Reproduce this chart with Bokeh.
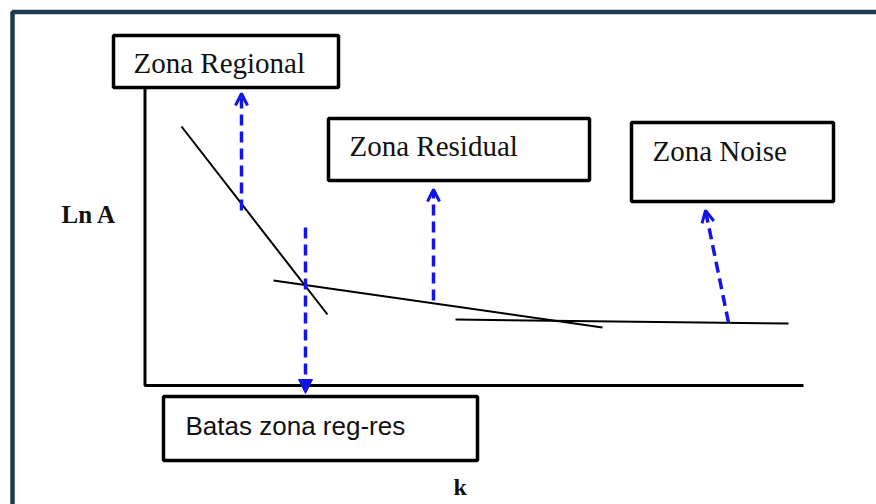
from bokeh.plotting import figure
from bokeh.models import Range1d, Arrow, OpenHead, NormalHead, ColumnDataSource
from bokeh.core.properties import value
from bokeh.embed import file_html
from bokeh.resources import INLINE

# ---- diagram data (coordinates in the picture's own units, y grows downward) ----
box_labels = ["Zona Regional", "Zona Residual", "Zona Noise"]
box_left = [113, 328, 631]
box_right = [338, 589, 833]
box_top = [35, 118, 122]
box_bottom = [87, 180, 201]
label_x = [133, 349, 652]
label_y = [62, 145, 150]

batas_label = ["Batas zona reg-res"]
batas_left = [163]
batas_right = [477]
batas_top = [396]
batas_bottom = [460]
batas_x = [185]
batas_y = [425]

# fitted segments (regional, residual, noise)
seg_x0 = [181, 273, 455]
seg_y0 = [126, 280, 319]
seg_x1 = [327, 602, 788]
seg_y1 = [314, 327, 323]

# axes frame
axis_x = [144.5, 144.5, 803]
axis_y = [88, 385, 385]

# blue dashed pointers (upward open-headed)
up_x0 = [241, 433, 728]
up_y0 = [210, 300, 322]
up_x1 = [241, 433, 705]
up_y1 = [93, 189, 210]
# downward filled pointer (boundary)
down_x0 = [305]
down_y0 = [227]
down_x1 = [305]
down_y1 = [393]

# page border (top and left)
border_x = [12, 12, 880]
border_y = [510, 11.5, 11.5]

ylabel = ["Ln A"]
ylabel_x = [61]
ylabel_y = [214]
xlabel = ["k"]
xlabel_x = [453]
xlabel_y = [486]

BLUE = "#1414e6"

p = figure(width=876, height=504, output_backend="svg", toolbar_location=None,
           x_range=Range1d(0, 876), y_range=Range1d(504, 0), min_border=0)
p.axis.visible = False
p.grid.visible = False
p.outline_line_color = None
p.background_fill_color = "white"
p.border_fill_color = "white"

# border
p.line(border_x, border_y, line_color="#1d3a4f", line_width=4.5)

# axes
p.line(axis_x, axis_y, line_color="black", line_width=3)

# segments
p.segment(x0=seg_x0, y0=seg_y0, x1=seg_x1, y1=seg_y1, line_color="black", line_width=2)

# boxes
p.quad(left=box_left, right=box_right, top=box_top, bottom=box_bottom,
       fill_color=None, line_color="black", line_width=3.5)
p.quad(left=batas_left, right=batas_right, top=batas_top, bottom=batas_bottom,
       fill_color=None, line_color="black", line_width=3.5)

# labels
p.text(x=label_x, y=label_y, text=box_labels, text_font=value("Liberation Serif"),
       text_font_size="29px", text_baseline="alphabetic", text_align="left", text_color="#111111")
p.text(x=batas_x, y=batas_y, text=batas_label, text_font=value("Liberation Sans"),
       text_font_size="26px", text_baseline="alphabetic", text_align="left", text_color="#111111")
p.text(x=ylabel_x, y=ylabel_y, text=ylabel, text_font=value("Liberation Serif"),
       text_font_size="25px", text_font_style="bold", text_baseline="alphabetic", text_align="left",
       text_color="#111111")
p.text(x=xlabel_x, y=xlabel_y, text=xlabel, text_font=value("Liberation Serif"),
       text_font_size="24px", text_font_style="bold", text_baseline="alphabetic", text_align="left",
       text_color="#111111")

# arrows
up_src = ColumnDataSource(dict(x0=up_x0, y0=up_y0, x1=up_x1, y1=up_y1))
p.add_layout(Arrow(end=OpenHead(size=12, line_color=BLUE, line_width=3),
                   x_start="x0", y_start="y0", x_end="x1", y_end="y1", source=up_src,
                   line_color=BLUE, line_width=3.5, line_dash="11 6"))
down_src = ColumnDataSource(dict(x0=down_x0, y0=down_y0, x1=down_x1, y1=down_y1))
p.add_layout(Arrow(end=NormalHead(size=14, line_color=BLUE, fill_color=BLUE, line_width=1),
                   x_start="x0", y_start="y0", x_end="x1", y_end="y1", source=down_src,
                   line_color=BLUE, line_width=3.5, line_dash="11 6"))

open("out.html", "w").write(file_html(p, INLINE))
